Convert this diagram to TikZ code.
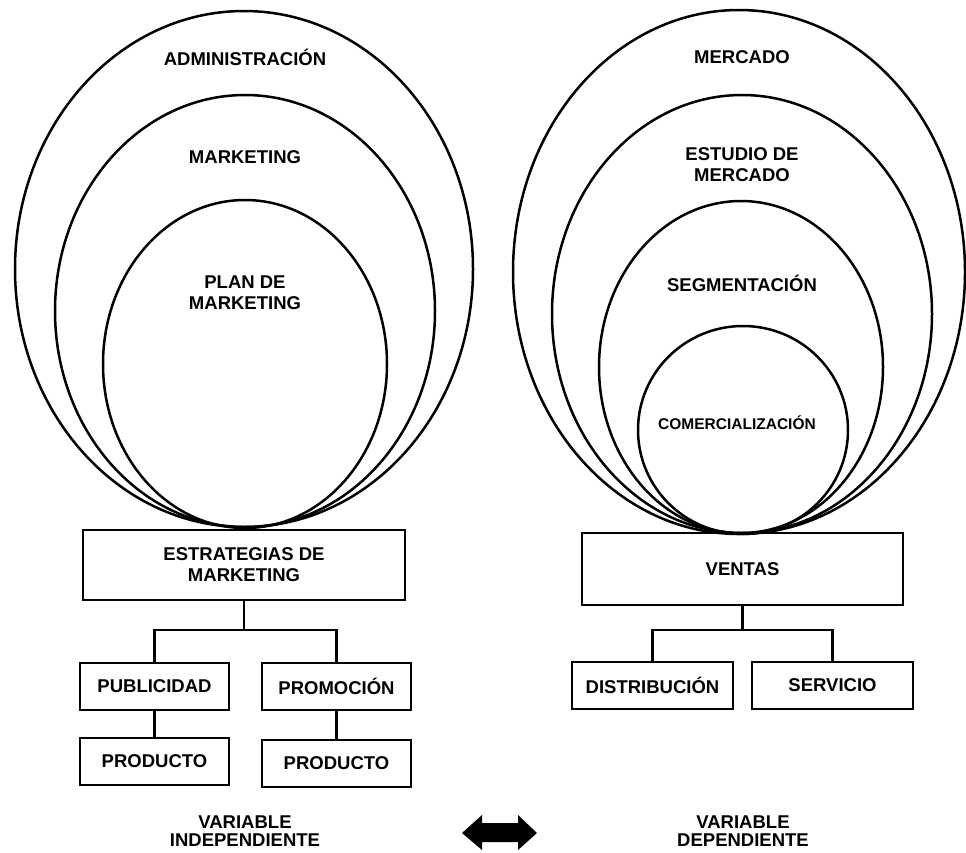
\documentclass[tikz,border=0pt]{standalone}
\usepackage{fontspec}
\setmainfont{Liberation Sans}
\usetikzlibrary{positioning}

\begin{document}
\begin{tikzpicture}[x=1pt, y=-1pt,
  circulo/.style={line width=2.5pt, black},
  rotulo/.style={align=center, inner sep=0pt, font=\fontsize{18.5}{21}\selectfont\bfseries},
  caja/.style={draw=black, line width=2.8pt, align=center, inner sep=0pt, font=\fontsize{18.5}{21}\selectfont\bfseries},
  linea/.style={line width=2.8pt, black}]
\useasboundingbox (0,0) rectangle (966,852);

% lado izquierdo
\draw[circulo] (244,269) ellipse (229 and 258);
\draw[circulo] (245,311) ellipse (190 and 216);
\draw[circulo] (245,364) ellipse (142 and 164);
\node[rotulo] (admin) at (245,57) {ADMINISTRACIÓN};
\node[rotulo] (mkt) at (245,157) {MARKETING};
\node[rotulo] (plan) at (245,293) {PLAN DE\\MARKETING};

\node[caja, minimum width=322pt, minimum height=70pt] (estr) at (244,565) {ESTRATEGIAS DE\\MARKETING};
\node[caja, minimum width=149pt, minimum height=47pt] (publ) at (154.5,686.5) {PUBLICIDAD};
\node[caja, minimum width=149pt, minimum height=47pt] (prom) at (336.5,686.5) {PROMOCIÓN};
\node[caja, minimum width=149pt, minimum height=47pt] (prodA) at (154.5,761.5) {PRODUCTO};
\node[caja, minimum width=149pt, minimum height=47pt] (prodB) at (336.5,763.5) {PRODUCTO};

\coordinate (ramaI) at (244,630);
\draw[linea] (estr) -- (ramaI);
\draw[linea] (publ.north) |- (ramaI) -| (prom.north);
\draw[linea] (publ) -- (prodA);
\draw[linea] (prom) -- (prodB);

\node[rotulo, font=\fontsize{18.5}{18}\selectfont\bfseries] (indep) at (245,831) {VARIABLE\\INDEPENDIENTE};

% lado derecho
\draw[circulo] (739,272) ellipse (226 and 262);
\draw[circulo] (742,314) ellipse (190 and 219);
\draw[circulo] (741,367) ellipse (142 and 166);
\draw[circulo] (743,430) ellipse (105 and 104);
\node[rotulo] (merc) at (742,57) {MERCADO};
\node[rotulo] (estud) at (742,165) {ESTUDIO DE\\MERCADO};
\node[rotulo] (segm) at (742,283) {SEGMENTACIÓN};
\node[rotulo, font=\fontsize{15.5}{18}\selectfont\bfseries] (comer) at (737,423) {COMERCIALIZACIÓN};

\node[caja, minimum width=321pt, minimum height=72pt] (vent) at (742.5,569) {VENTAS};
\node[caja, minimum width=161pt, minimum height=47pt] (dist) at (652.5,685.5) {DISTRIBUCIÓN};
\node[caja, minimum width=161pt, minimum height=47pt] (serv) at (832.5,685.5) {SERVICIO};

\coordinate (ramaD) at (742.5,630);
\draw[linea] (vent) -- (ramaD);
\draw[linea] (dist.north) |- (ramaD) -| (serv.north);

\node[rotulo, font=\fontsize{18.5}{18}\selectfont\bfseries] (dep) at (743,831) {VARIABLE\\DEPENDIENTE};

% flecha doble
\fill[black] (462,833) -- (482,815) -- (482,823) -- (518,823) -- (518,815) -- (537,833)
  -- (518,850) -- (518,842) -- (482,842) -- (482,850) -- cycle;
\end{tikzpicture}
\end{document}
